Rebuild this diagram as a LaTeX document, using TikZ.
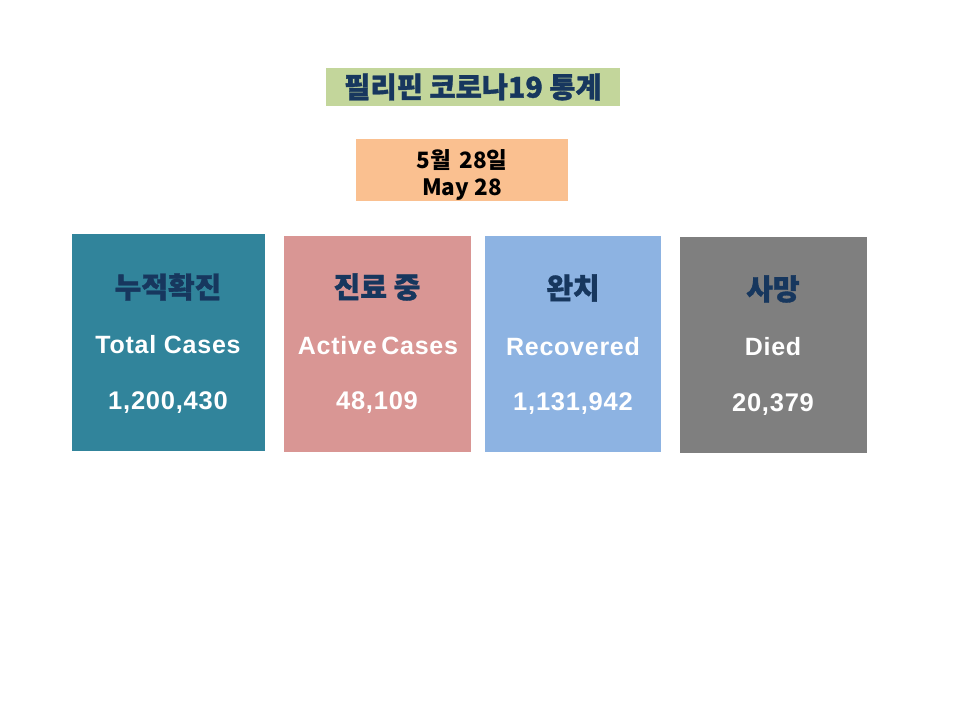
\documentclass[tikz,border=0pt]{standalone}
\usepackage{fontspec}
\setmainfont{Liberation Sans}[LetterSpace=3]
\newfontfamily\kr{Noto Sans CJK KR}
\newfontfamily\krheavy{Noto Sans CJK KR}[FakeBold=1.2]
\definecolor{titlegreen}{HTML}{C3D69B}
\definecolor{datepeach}{HTML}{FAC090}
\definecolor{navy}{HTML}{17375E}
\definecolor{teal}{HTML}{31849B}
\definecolor{rose}{HTML}{D99694}
\definecolor{skyblue}{HTML}{8DB3E2}
\definecolor{midgray}{HTML}{7F7F7F}
\begin{document}
\begin{tikzpicture}[x=1pt,y=-1pt,
  krlabel/.style={font=\krheavy\bfseries\fontsize{29}{32}\selectfont, text=navy},
  enlabel/.style={font=\bfseries\fontsize{25}{27}\selectfont, text=white},
  numlabel/.style={font=\bfseries\fontsize{25.5}{28}\selectfont, text=white}]
\useasboundingbox (0,0) rectangle (960,720);
\fill[white] (0,0) rectangle (960,720);
% title
\fill[titlegreen] (326,68) rectangle (620,106);
\node[font=\krheavy\bfseries\fontsize{28.5}{30}\selectfont, text=navy] (title) at (473,87) {필리핀 코로나19 통계};
% date
\fill[datepeach] (356,139) rectangle (568,201);
\node[font=\kr\bfseries\fontsize{22.5}{27}\selectfont, align=center, text=black] (date) at (462,175) {5월\, 28일\\May 28};
% cards
\fill[teal] (72,234) rectangle (265,451);
\fill[rose] (284,236) rectangle (471,452);
\fill[skyblue] (485,236) rectangle (661,452);
\fill[midgray] (680,237) rectangle (867,453);
\node[krlabel] (k1) at (168,287) {누적확진};
\node[enlabel] (e1) at (168,345) {Total Cases};
\node[numlabel] (n1) at (168,403) {1,200,430};
\node[krlabel] (k2) at (377,287) {진료 중};
\node[enlabel] (e2) at (378,346) {Active\hspace{-3pt} Cases};
\node[numlabel] (n2) at (377,403) {48,109};
\node[krlabel] (k3) at (573,288) {완치};
\node[enlabel] (e3) at (573,347) {Recovered};
\node[numlabel] (n3) at (573,404) {1,131,942};
\node[krlabel] (k4) at (773,289) {사망};
\node[enlabel] (e4) at (773,347) {Died};
\node[numlabel] (n4) at (773,405) {20,379};
\end{tikzpicture}
\end{document}
